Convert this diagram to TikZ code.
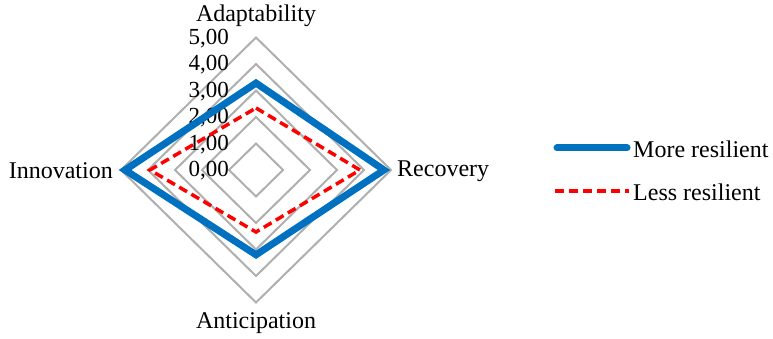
\documentclass[tikz,border=0pt]{standalone}
\usepackage{fontspec}
\setmainfont{Liberation Serif}
\begin{document}
\begin{tikzpicture}[x=1pt,y=-1pt,
  ring/.style={draw=gridgray,line width=2pt,line join=miter},
  moreline/.style={draw=moreblue,line width=7pt,line join=miter,line cap=round},
  lessline/.style={draw=red,line width=3.5pt,dash pattern=on 9pt off 5pt,line join=miter},
  lbl/.style={font=\fontsize{24}{26}\selectfont,inner sep=0pt},
  tick/.style={font=\fontsize{23}{25}\selectfont,inner sep=0pt,anchor=east}]
\definecolor{gridgray}{RGB}{175,175,175}
\definecolor{moreblue}{RGB}{0,112,192}
\useasboundingbox (0,0) rectangle (773,339);
\def\cx{256}\def\cy{170}\def\ux{27}\def\uy{26.5}
% rings
\foreach \v in {1,...,5}{
  \draw[ring] (\cx,\cy-\v*\uy) -- (\cx+\v*\ux,\cy) -- (\cx,\cy+\v*\uy) -- (\cx-\v*\ux,\cy) -- cycle;
}
% tick labels
\foreach \v/\t in {0/0,1/1,2/2,3/3,4/4,5/5}{
  \node[tick] (t\v) at (229,\cy-\v*\uy+1) {\t,00};
}
% data
\draw[moreline] (\cx,\cy-3.28*\uy) -- (\cx+4.74*\ux,\cy) -- (\cx,\cy+3.2*\uy) -- (\cx-4.85*\ux,\cy) -- cycle;
\draw[lessline] (\cx,\cy-2.34*\uy) -- (\cx+3.85*\ux,\cy) -- (\cx,\cy+2.34*\uy) -- (\cx-3.93*\ux,\cy) -- cycle;
% axis labels
\node[lbl,anchor=base] (adapt) at (256,22) {Adaptability};
\node[lbl,anchor=west] (recov) at (397,171) {Recovery};
\node[lbl] (antic) at (256,323) {Anticipation};
\node[lbl,anchor=east] (innov) at (113,171) {Innovation};
% legend
\coordinate (m1) at (557,148);
\coordinate (m2) at (627,148);
\draw[moreline] (m1) -- (m2);
\node[lbl,anchor=west] (more) at (633,149) {More resilient};
\coordinate (l1) at (555,191);
\coordinate (l2) at (629,191);
\draw[lessline] (l1) -- (l2);
\node[lbl,anchor=west] (less) at (633,192) {Less resilient};
\end{tikzpicture}
\end{document}
